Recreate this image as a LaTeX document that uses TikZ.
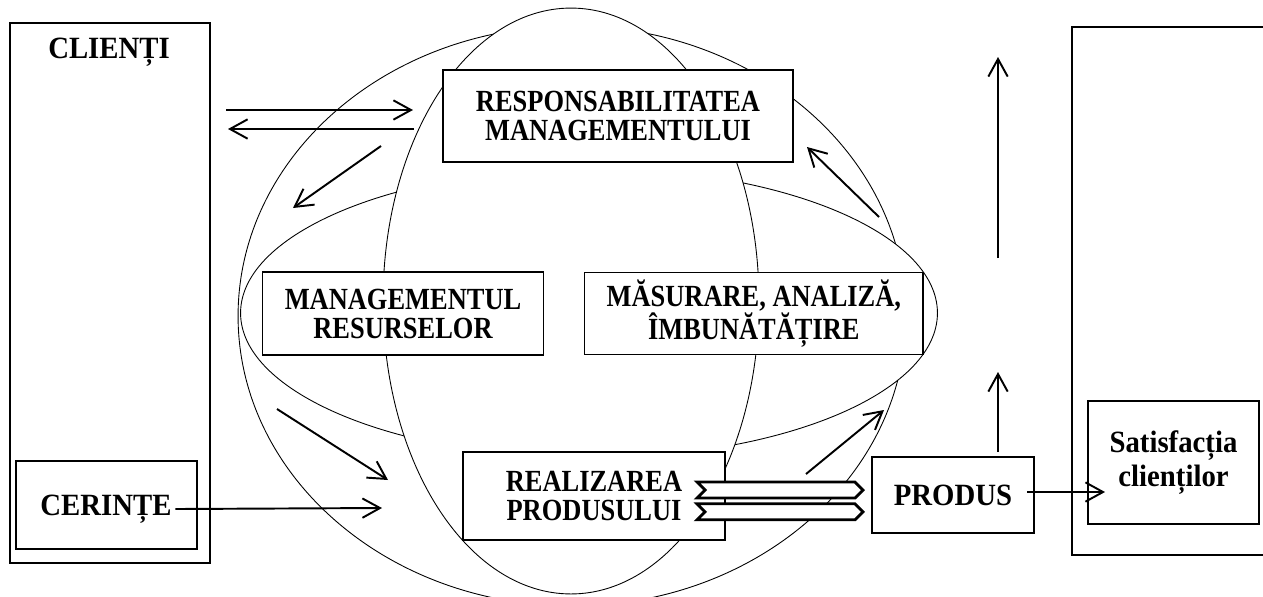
\documentclass[tikz,border=0pt]{standalone}
\usepackage{fontspec}
\setmainfont{Liberation Serif}
\newfontfamily\narrowserif{Liberation Serif}[FakeStretch=0.86]
\newfontfamily\labelserif{Liberation Serif}[FakeStretch=0.93]
\usepackage{tikz}
\usetikzlibrary{arrows.meta, positioning, shapes.symbols}

\begin{document}
\begin{tikzpicture}[
  x=0.02cm, y=-0.02cm,
  box/.style={rectangle, draw, fill=white, line width=0.8pt, align=center, inner sep=0pt},
  innerbox/.style={box, font=\narrowserif\bfseries\fontsize{17.5}{16.5}\selectfont},
  lbl/.style={inner sep=0pt, align=center, font=\labelserif\bfseries\fontsize{17.6}{19}\selectfont},
  ring/.style={draw, fill=white, line width=0.5pt},
  band/.style={signal, signal to=east, signal from=west, draw, fill=white, line width=1.6pt, minimum width=3.32cm, minimum height=0.32cm, inner sep=0pt},
  arr/.style={-{Straight Barb[length=10pt, width=11pt]}, line width=1.1pt},
]
\useasboundingbox (0,0) rectangle (1263,596);

%% Ellipses
\draw[ring] (572,316) ellipse [x radius=6.68cm, y radius=5.8cm];
\draw[ring] (589,313) ellipse [x radius=6.97cm, y radius=2.9cm];
\draw[ring] (571,301) ellipse [x radius=3.76cm, y radius=5.86cm];

%% Clients (left)
\node[box, minimum width=4cm, minimum height=10.8cm] (clientibox) at (110,293) {};
\node[lbl] (clienti) at (109,52) {CLIENȚI};
\node[box, minimum width=3.62cm, minimum height=1.76cm] (cerintebox) at (106.5,505) {};
\node[lbl] (cerinte) at (106,509) {CERINȚE};

%% Processes
\node[innerbox, minimum width=7cm, minimum height=1.84cm] (resp) at (618,116) {RESPONSABILITATEA\\MANAGEMENTULUI};
\node[innerbox, minimum width=5.61cm, minimum height=1.66cm] (mgmt) at (403,313.5) {MANAGEMENTUL\\RESURSELOR};
\node[innerbox, minimum width=6.77cm, minimum height=1.64cm, right=0.8cm of mgmt] (masurare) {MĂSURARE, ANALIZĂ,\\ÎMBUNĂTĂȚIRE};
\node[innerbox, minimum width=5.24cm, minimum height=1.76cm] (realizare) at (594,496) {REALIZAREA\\PRODUSULUI};

%% Product
\node[box, lbl, minimum width=3.24cm, minimum height=1.52cm] (produs) at (953,495) {PRODUS};

%% Clients (right)
\node[box, minimum width=4.56cm, minimum height=10.56cm] (satbox) at (1186,291) {};
\node[box, lbl, minimum width=3.42cm, minimum height=2.46cm] (satisf) at (1173.5,462.5) {Satisfacția\\clienților};

%% Output bands
\node[band] (bandtop) at (780,490) {};
\node[band, below=0.06cm of bandtop] (bandbot) {};

%% Free arrow ends
\coordinate (cliout) at (226,110);
\coordinate (respin) at (413,110);
\coordinate (respout) at (414,129);
\coordinate (cliin) at (228,129);
\coordinate (downstart) at (381,146);
\coordinate (downend) at (293,208);
\coordinate (slopestart) at (277,409);
\coordinate (slopeend) at (388,480);
\coordinate (reqend) at (382,508);
\coordinate (backstart) at (879,217);
\coordinate (backend) at (807,147);
\coordinate (outstart) at (806,474);
\coordinate (outend) at (884,410);
\coordinate (upstart) at (998,258);
\coordinate (upend) at (998,57);
\coordinate (produp) at (998,452);
\coordinate (produpend) at (998,372);
\coordinate (prodout) at (1027,492);
\coordinate (satin) at (1105,492);

%% Arrows
\draw[arr] (cliout) -- (respin);
\draw[arr] (respout) -- (cliin);
\draw[arr] (downstart) -- (downend);
\draw[arr] (slopestart) -- (slopeend);
\draw[arr] ([xshift=2pt]cerinte.east) -- (reqend);
\draw[arr] (backstart) -- (backend);
\draw[arr] (outstart) -- (outend);
\draw[arr] (upstart) -- (upend);
\draw[arr] (produp) -- (produpend);
\draw[arr] (prodout) -- (satin);

\end{tikzpicture}
\end{document}
